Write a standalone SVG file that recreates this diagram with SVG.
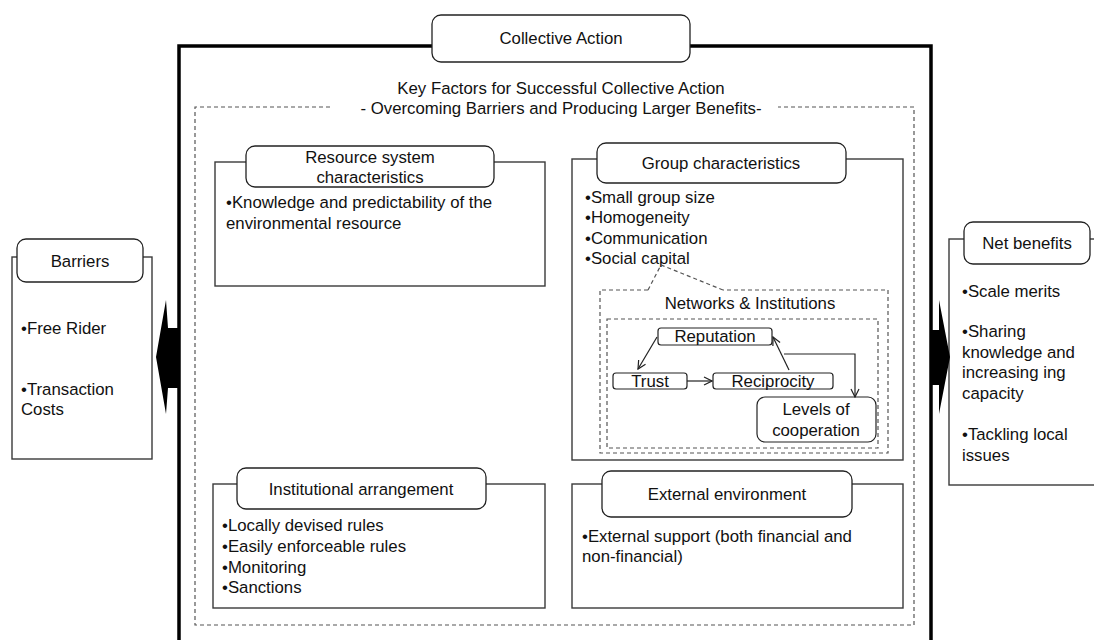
<svg xmlns="http://www.w3.org/2000/svg" width="1094" height="640" viewBox="0 0 1094 640">
  <defs>
    <style>
      text { font-family: "Liberation Sans", Arial, sans-serif; font-size: 16.8px; fill: #111; }
      .c { text-anchor: middle; }
      .frame { fill: #fff; stroke: #3a3a3a; stroke-width: 1.4; }
      .head { fill: #fff; stroke: #222; stroke-width: 1.3; }
      .thick { fill: none; stroke: #000; stroke-width: 3.5; }
      .dash { fill: none; stroke: #555; stroke-width: 1.2; stroke-dasharray: 4 3; }
      .small { fill: #fff; stroke: #222; stroke-width: 1.2; }
      .link { fill: none; stroke: #222; stroke-width: 1.2; }
      .block { fill: #000; }
    </style>
    <marker id="open" viewBox="0 0 10 10" refX="9" refY="5" markerWidth="10" markerHeight="10" markerUnits="userSpaceOnUse" orient="auto">
      <path d="M1,1 L9,5 L1,9" fill="none" stroke="#222" stroke-width="1.2"/>
    </marker>
  </defs>

  <!-- Collective action frame -->
  <g id="collective-action">
    <path class="thick" d="M179,660 L179,46 L931,46 L931,660"/>
    <rect class="head" x="432" y="15" width="258" height="47" rx="9"/>
    <text class="c" x="561" y="44">Collective Action</text>
  </g>

  <!-- Key factors area -->
  <g id="key-factors">
    <path class="dash" d="M330,107 L195,107 L195,625 L914,625 L914,107 L778,107"/>
    <text class="c" x="561" y="94">Key Factors for Successful Collective Action</text>
    <text class="c" x="561" y="114">- Overcoming Barriers and Producing Larger Benefits-</text>
  </g>

  <g id="resource-system">
    <rect class="frame" x="215" y="162" width="330" height="124"/>
    <rect class="head" x="246" y="146" width="248" height="41" rx="9"/>
    <text class="c" x="370" y="163">Resource system</text>
    <text class="c" x="370" y="183">characteristics</text>
    <text x="226" y="208">•Knowledge and predictability  of the</text>
    <text x="226" y="229">environmental resource</text>
  </g>

  <g id="group-characteristics">
    <rect class="frame" x="572" y="159" width="331" height="301"/>
    <rect class="head" x="597" y="143" width="249" height="40" rx="9"/>
    <text class="c" x="721" y="169">Group characteristics</text>
    <text x="585" y="203">•Small group size</text>
    <text x="585" y="223">•Homogeneity</text>
    <text x="585" y="244">•Communication</text>
    <text x="585" y="264">•Social capital</text>
  </g>

  <g id="networks-institutions">
    <path class="dash" d="M648,290 L600,290 L600,453 L888,453 L888,290 L723,290 M648,290 L661,265 L723,290"/>
    <text class="c" x="750" y="309">Networks &amp; Institutions</text>
    <rect class="dash" x="607" y="319" width="271" height="129"/>
  </g>

  <g id="reputation">
    <rect class="small" x="658" y="328" width="114" height="17" rx="3"/>
    <text class="c" x="715" y="342">Reputation</text>
  </g>
  <g id="trust">
    <rect class="small" x="613" y="373" width="74" height="16" rx="3"/>
    <text class="c" x="650" y="387">Trust</text>
  </g>
  <g id="reciprocity">
    <rect class="small" x="713" y="373" width="120" height="16" rx="3"/>
    <text class="c" x="773" y="387">Reciprocity</text>
  </g>
  <g id="levels-of-cooperation">
    <rect class="small" x="757" y="397" width="119" height="45" rx="8"/>
    <text class="c" x="816" y="415">Levels of</text>
    <text class="c" x="816" y="436">cooperation</text>
  </g>

  <g id="institutional-arrangement">
    <rect class="frame" x="213" y="484" width="332" height="124"/>
    <rect class="head" x="237" y="468" width="249" height="41" rx="9"/>
    <text class="c" x="361" y="495">Institutional arrangement</text>
    <text x="222" y="531">•Locally devised rules</text>
    <text x="222" y="552">•Easily enforceable rules</text>
    <text x="222" y="573">•Monitoring</text>
    <text x="222" y="593">•Sanctions</text>
  </g>

  <g id="external-environment">
    <rect class="frame" x="572" y="484" width="331" height="124"/>
    <rect class="head" x="602" y="471" width="250" height="46" rx="9"/>
    <text class="c" x="727" y="500">External environment</text>
    <text x="582" y="542">•External support (both financial and</text>
    <text x="582" y="562">non-financial)</text>
  </g>

  <g id="barriers">
    <rect class="frame" x="12" y="257" width="140" height="202"/>
    <rect class="head" x="17" y="239" width="126" height="43" rx="9"/>
    <text class="c" x="80" y="267">Barriers</text>
    <text x="21" y="334">•Free Rider</text>
    <text x="21" y="395">•Transaction</text>
    <text x="21" y="415">Costs</text>
  </g>

  <g id="net-benefits">
    <rect class="frame" x="949" y="239" width="160" height="246"/>
    <rect class="head" x="964" y="222" width="126" height="42" rx="9"/>
    <text class="c" x="1027" y="249">Net benefits</text>
    <text x="962" y="297">•Scale merits</text>
    <text x="962" y="337">•Sharing</text>
    <text x="962" y="358">knowledge and</text>
    <text x="962" y="378">increasing ing</text>
    <text x="962" y="399">capacity</text>
    <text x="962" y="440">•Tackling local</text>
    <text x="962" y="461">issues</text>
  </g>

  <!-- Connectors -->
  <g id="connectors">
    <polygon class="block" points="179,328 168,328 166,300 156,357 166,414 168,388 179,388"/>
    <polygon class="block" points="931,330 939,330 939,300 950,357 939,414 939,385 931,385"/>
    <path class="link" d="M657,337 L638,369" marker-end="url(#open)"/>
    <path class="link" d="M687,381 L712,381" marker-end="url(#open)"/>
    <path class="link" d="M789,370 L773,337" marker-end="url(#open)"/>
    <path class="link" d="M784,354 L855,354 L855,397" marker-end="url(#open)"/>
  </g>
</svg>
